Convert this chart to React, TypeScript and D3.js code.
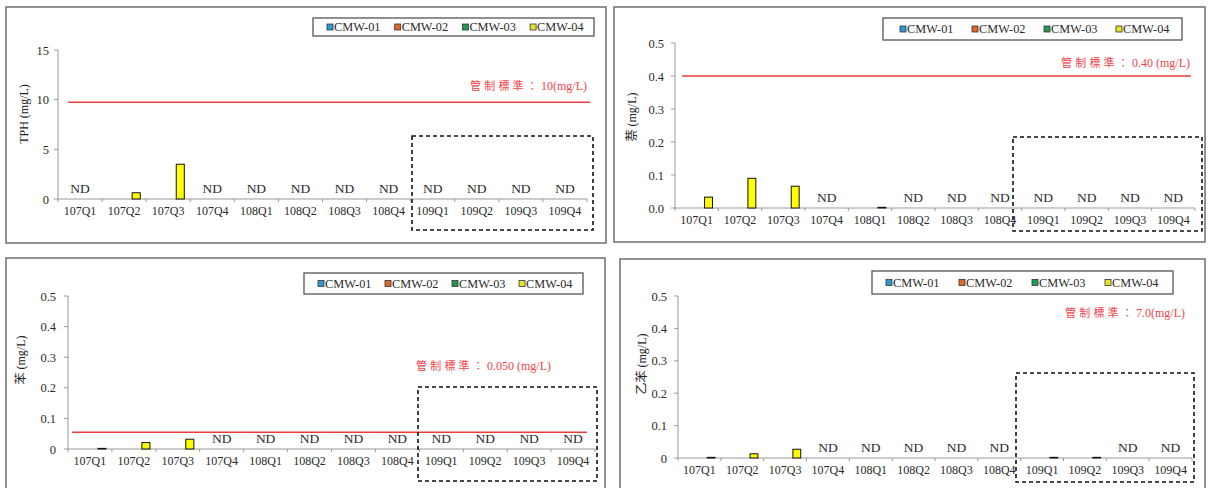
import { useEffect, useRef } from 'react';
import * as d3 from 'd3';

// quarters on the x axis, shared by all four panels
const quarters = ['107Q1', '107Q2', '107Q3', '107Q4', '108Q1', '108Q2', '108Q3', '108Q4', '109Q1', '109Q2', '109Q3', '109Q4'];
const wells = ['CMW-01', 'CMW-02', 'CMW-03', 'CMW-04'];
const wellColors = ['#2c9ad6', '#e0662c', '#1e9a57', '#e4e42a'];

// CMW-04 readings (mg/L); null = ND
const tphCmw04 = [null, 0.63, 3.5, null, null, null, null, null, null, null, null, null];
const naphCmw04 = [0.033, 0.09, 0.066, null, 0.002, null, null, null, null, null, null, null];
const benzeneCmw04 = [0.002, 0.021, 0.032, null, null, null, null, null, null, null, null, null];
const ethylbenzeneCmw04 = [0.002, 0.013, 0.027, null, null, null, null, null, 0.002, 0.002, null, null];

const tphTicks = [0, 5, 10, 15];
const tphTickLabels = ['0', '5', '10', '15'];
const naphTicks = [0, 0.1, 0.2, 0.3, 0.4, 0.5];
const naphTickLabels = ['0.0', '0.1', '0.2', '0.3', '0.4', '0.5'];
const benzeneTicks = [0, 0.1, 0.2, 0.3, 0.4, 0.5];
const benzeneTickLabels = ['0', '0.1', '0.2', '0.3', '0.4', '0.5'];
const ethylTicks = [0, 0.1, 0.2, 0.3, 0.4, 0.5];
const ethylTickLabels = ['0', '0.1', '0.2', '0.3', '0.4', '0.5'];

const yTitles = ['TPH (mg/L)', '萘 (mg/L)', '苯 (mg/L)', '乙苯 (mg/L)'];
const limitValues = [9.75, 0.4, 0.055, 7.0];
const limitPrefix = '管制標準：';
const limitTexts = ['10(mg/L)', '0.40 (mg/L)', '0.050 (mg/L)', '7.0(mg/L)'];

const panelValues = [tphCmw04, naphCmw04, benzeneCmw04, ethylbenzeneCmw04];
const panelTicks = [tphTicks, naphTicks, benzeneTicks, ethylTicks];
const panelTickLabels = [tphTickLabels, naphTickLabels, benzeneTickLabels, ethylTickLabels];

// pixel layout of each panel
const layouts = [
  { frame: [6, 7, 600, 236], x0: 58, x1: 587, yTop: 50, y0: 199, tickGap: 9,
    legend: [313, 18, 281, 18, 14, 67.7], line: [68, 590], label: [587, 90], dash: [412, 136, 181, 94], title: [25, 114] },
  { frame: [614, 7, 591, 235], x0: 675, x1: 1195, yTop: 43, y0: 208, tickGap: 11,
    legend: [883, 18, 299, 22, 17, 72], line: [682, 1191], label: [1190, 67], dash: [1013, 137, 189, 94], title: [633, 117] },
  { frame: [6, 258, 599, 240], x0: 68, x1: 595, yTop: 296, y0: 449, tickGap: 12,
    legend: [304, 273, 279, 21, 14, 67], line: [72, 587], label: [551, 370], dash: [418, 387, 179, 94], title: [22, 360] },
  { frame: [620, 259, 585, 240], x0: 678, x1: 1192, yTop: 296, y0: 458, tickGap: 11,
    legend: [872, 271, 301, 23, 14, 73], line: [680, 1190], label: [1185, 317], dash: [1016, 373, 178, 109], title: [643, 364] },
];

const FONT = '"Liberation Serif", "Times New Roman", "Noto Sans CJK TC", serif';
const INK = '#2a2a2a';

export default function App() {
  const svgRef = useRef<SVGSVGElement>(null);

  useEffect(() => {
    const svg = d3.select(svgRef.current);
    svg.selectAll('*').remove();

    layouts.forEach((L, p) => {
      const g = svg.append('g');
      const ticks = panelTicks[p];
      const values = panelValues[p];
      const yMax = ticks[ticks.length - 1];

      const x = d3.scaleBand().domain(quarters).range([L.x0, L.x1]).paddingInner(0.27).paddingOuter(0.135);
      const xb = d3.scaleBand().domain(wells).range([0, x.bandwidth()]);
      const y = d3.scaleLinear().domain([0, yMax]).range([L.y0, L.yTop]);
      const step = (L.x1 - L.x0) / quarters.length;

      // panel frame
      g.append('rect')
        .attr('x', L.frame[0]).attr('y', L.frame[1])
        .attr('width', L.frame[2]).attr('height', L.frame[3])
        .attr('fill', '#fff').attr('stroke', '#777').attr('stroke-width', 1.6);

      // limit line
      if (limitValues[p] <= yMax) {
        g.append('line')
          .attr('x1', L.line[0]).attr('x2', L.line[1])
          .attr('y1', y(limitValues[p])).attr('y2', y(limitValues[p]))
          .attr('stroke', '#ee3b3b').attr('stroke-width', 1.5);
      }

      // y axis
      g.append('line').attr('x1', L.x0).attr('x2', L.x0).attr('y1', L.yTop).attr('y2', L.y0)
        .attr('stroke', '#999').attr('stroke-width', 1);
      ticks.forEach((t, i) => {
        g.append('line').attr('x1', L.x0 - 4).attr('x2', L.x0).attr('y1', y(t)).attr('y2', y(t))
          .attr('stroke', '#999');
        g.append('text')
          .attr('x', L.x0 - L.tickGap).attr('y', y(t) + 4.5)
          .attr('text-anchor', 'end').attr('font-size', 12.5).attr('fill', INK)
          .style('font-family', FONT)
          .text(panelTickLabels[p][i]);
      });

      // x axis
      g.append('line').attr('x1', L.x0).attr('x2', L.x1).attr('y1', L.y0).attr('y2', L.y0)
        .attr('stroke', '#999').attr('stroke-width', 1);
      d3.range(quarters.length + 1).forEach(i => {
        g.append('line').attr('x1', L.x0 + i * step).attr('x2', L.x0 + i * step)
          .attr('y1', L.y0).attr('y2', L.y0 + 3).attr('stroke', '#999');
      });
      quarters.forEach(q => {
        g.append('text')
          .attr('x', (x(q) as number) + x.bandwidth() / 2).attr('y', L.y0 + 16)
          .attr('text-anchor', 'middle').attr('font-size', 12).attr('fill', INK)
          .style('font-family', FONT)
          .text(q);
      });

      // y title
      g.append('text')
        .attr('transform', `translate(${L.title[0]},${L.title[1]}) rotate(-90)`)
        .attr('text-anchor', 'middle').attr('dominant-baseline', 'middle')
        .attr('font-size', 12).attr('fill', '#222')
        .style('font-family', FONT)
        .text(yTitles[p]);

      // CMW-04 bars and ND labels
      values.forEach((v, i) => {
        const cx = (x(quarters[i]) as number);
        if (v === null) {
          g.append('text')
            .attr('x', cx + x.bandwidth() / 2).attr('y', L.y0 - 6)
            .attr('text-anchor', 'middle').attr('font-size', 13.5).attr('fill', INK)
            .style('font-family', FONT)
            .text('ND');
        } else {
          g.append('rect')
            .attr('x', cx + (xb('CMW-04') as number)).attr('y', y(v))
            .attr('width', xb.bandwidth()).attr('height', Math.max(0.6, L.y0 - y(v)))
            .attr('fill', '#ffff00').attr('stroke', '#111').attr('stroke-width', 1);
        }
      });

      // legend
      const [lx, ly, lw, lh, lpad, lstep] = L.legend;
      g.append('rect').attr('x', lx).attr('y', ly).attr('width', lw).attr('height', lh)
        .attr('fill', '#fff').attr('stroke', '#555').attr('stroke-width', 1.3);
      wells.forEach((w, i) => {
        const ix = lx + lpad + i * lstep;
        const cy = ly + lh / 2;
        g.append('rect').attr('x', ix).attr('y', cy - 3).attr('width', 6).attr('height', 6)
          .attr('fill', wellColors[i]).attr('stroke', '#333').attr('stroke-width', 0.8);
        g.append('text').attr('x', ix + 7).attr('y', cy + 4.2)
          .attr('font-size', 12.3).attr('fill', INK)
          .style('font-family', FONT)
          .text(w);
      });

      // limit label
      const lbl = g.append('text')
        .attr('x', L.label[0]).attr('y', L.label[1])
        .attr('text-anchor', 'end').attr('fill', '#f2434a')
        .style('font-family', FONT);
      lbl.append('tspan').attr('font-size', 11).attr('letter-spacing', 3.2).text(limitPrefix);
      lbl.append('tspan').attr('font-size', 12).text(limitTexts[p]);

      // dashed highlight box
      g.append('rect')
        .attr('x', L.dash[0]).attr('y', L.dash[1]).attr('width', L.dash[2]).attr('height', L.dash[3])
        .attr('fill', 'none').attr('stroke', '#111').attr('stroke-width', 1.6)
        .attr('stroke-dasharray', '4,3');
    });
  }, []);

  return (
    <div style={{ position: 'absolute', left: 0, top: 0, width: 1208, height: 488, overflow: 'hidden', background: '#fff' }}>
      <svg ref={svgRef} width={1208} height={488} style={{ display: 'block' }} />
    </div>
  );
}
